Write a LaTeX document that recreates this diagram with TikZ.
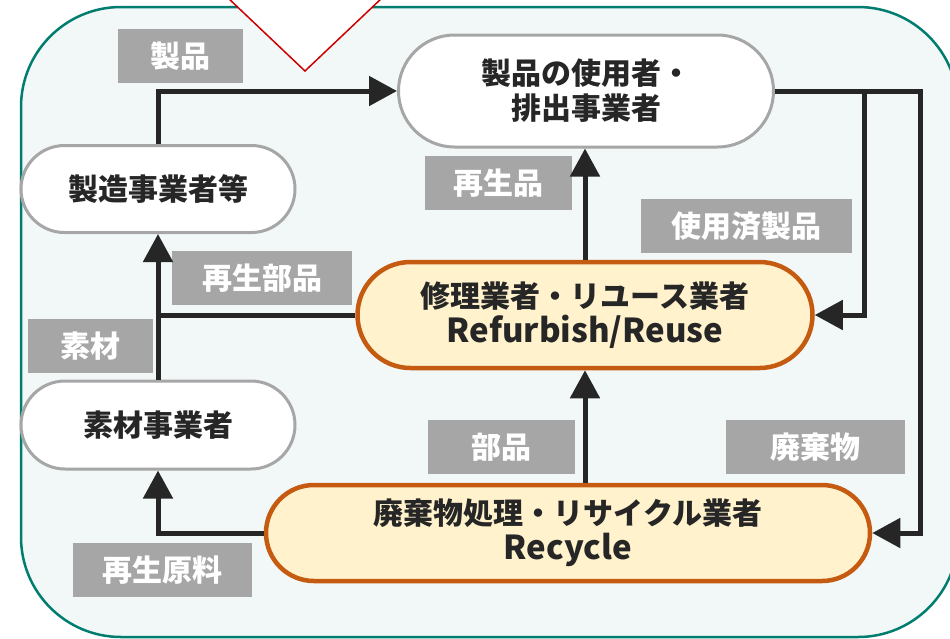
\documentclass[tikz,border=0pt]{standalone}
\usepackage{fontspec}
\setmainfont{Noto Sans CJK JP}
\usetikzlibrary{arrows.meta}
\definecolor{rimteal}{RGB}{0,125,110}
\definecolor{bgtint}{RGB}{242,248,248}
\definecolor{pillgray}{RGB}{166,166,166}
\definecolor{tagfill}{RGB}{166,166,166}
\definecolor{dealerorange}{RGB}{197,90,17}
\definecolor{dealercream}{RGB}{255,242,204}
\definecolor{ink}{RGB}{38,38,38}
\definecolor{alertred}{RGB}{204,0,0}
\newcommand{\latinpart}[1]{{\fontsize{33}{35}\selectfont #1}}

\begin{document}
\begin{tikzpicture}[x=1pt, y=-1pt,
    pill/.style={rounded corners=#1, minimum height=2*#1},
    party/.style={draw=pillgray, line width=3pt, fill=white, align=center,
        text=ink, inner sep=0pt, font=\fontsize{30}{35}\selectfont\bfseries},
    dealer/.style={draw=dealerorange, line width=4.5pt, fill=dealercream, align=center,
        text=ink, inner sep=0pt, font=\fontsize{30}{35}\selectfont\bfseries},
    tag/.style={fill=tagfill, text=white, inner sep=0pt, minimum height=54pt,
        font=\fontsize{30}{35}\selectfont\bfseries},
    wire/.style={draw=ink, line width=5pt},
    flow/.style={wire, -{Triangle[length=28pt, width=29pt]}}]
\useasboundingbox (0,0) rectangle (950,638);

% Frame
\begin{scope}
\clip (0,0) rectangle (950,638);
\draw[rimteal, line width=2.5pt, fill=bgtint, rounded corners=100pt] (21,7) rectangle (958,637);
\filldraw[draw=alertred, fill=white, line width=1.5pt] (227,-3) -- (305,71) -- (383,-3);
\end{scope}

% Actors
\node[party, pill=56pt, minimum width=375pt] (user) at (586,91) {製品の使用者・\\排出事業者};
\node[party, pill=43.5pt, minimum width=274pt] (maker) at (158,189) {製造事業者等};
\node[party, pill=44pt, minimum width=274pt] (material) at (158,425) {素材事業者};
\node[dealer, pill=53pt, minimum width=455pt] (repair) at (585,315) {修理業者・リユース業者\\\latinpart{Refurbish/Reuse}};
\node[dealer, pill=48pt, minimum width=604pt] (recycle) at (568,533) {廃棄物処理・リサイクル業者\\\latinpart{Recycle}};

% Flow labels
\node[tag, minimum width=125pt] (tproduct) at (180,56) {製品};
\node[tag, minimum width=147pt] (treprod) at (498,183) {再生品};
\node[tag, minimum width=211pt] (tused) at (746,226) {使用済製品};
\node[tag, minimum width=180pt] (trepart) at (262,278) {再生部品};
\node[tag, minimum width=125pt] (tmat) at (90,346) {素材};
\node[tag, minimum width=147pt] (tpart) at (501,447) {部品};
\node[tag, minimum width=179pt] (twaste) at (815,447) {廃棄物};
\node[tag, minimum width=179pt] (traw) at (162,570) {再生原料};

% Flows
\path (user.east) ++(89,0) coordinate (split);
\path (split) ++(56,0) coordinate (rim);
\draw[flow] (maker.north) |- (user.west);
\draw[flow] (user.east) -- (split) |- (repair.east);
\draw[flow] (split) -- (rim) |- (recycle.east);
\draw[flow] (repair.north) -- (repair.north |- user.south);
\draw[flow] (repair.south |- recycle.north) -- (repair.south);
\draw[flow] (repair.west) -| (maker.south);
\draw[wire] (material.north) -- (material.north |- repair.west);
\draw[flow] (recycle.west) -| (material.south);
\end{tikzpicture}
\end{document}
